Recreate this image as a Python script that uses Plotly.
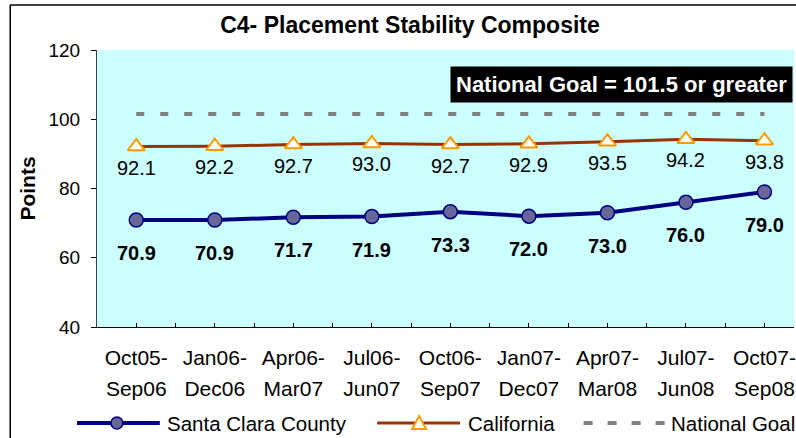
import plotly.graph_objects as go

categories_line1 = ["Oct05-", "Jan06-", "Apr06-", "Jul06-", "Oct06-", "Jan07-", "Apr07-", "Jul07-", "Oct07-"]
categories_line2 = ["Sep06", "Dec06", "Mar07", "Jun07", "Sep07", "Dec07", "Mar08", "Jun08", "Sep08"]
santa_clara = [70.9, 70.9, 71.7, 71.9, 73.3, 72.0, 73.0, 76.0, 79.0]
california = [92.1, 92.2, 92.7, 93.0, 92.7, 92.9, 93.5, 94.2, 93.8]
national_goal_value = 101.5
national_goal = [national_goal_value] * len(categories_line1)
y_ticks = [40, 60, 80, 100, 120]

FONT = "Liberation Sans, Arial, sans-serif"
W, H = 796, 438
L, R, T, B = 97, 0, 50, 111
PW = W - L - R
PH = H - T - B

def px(xp):
    return (xp - L) / PW

def py(yp):
    return (H - B - yp) / PH

xs = list(range(len(categories_line1)))

fig = go.Figure()
fig.add_trace(go.Scatter(
    x=xs, y=national_goal, mode="lines", name="National Goal",
    line=dict(color="#808080", width=4, dash="8px,16px"), showlegend=False))
fig.add_trace(go.Scatter(
    x=xs, y=california, mode="lines+markers", name="California",
    line=dict(color="#993300", width=3),
    marker=dict(symbol="triangle-up", size=15, color="white",
                line=dict(color="#FF9900", width=2)), showlegend=False))
fig.add_trace(go.Scatter(
    x=xs, y=santa_clara, mode="lines+markers", name="Santa Clara County",
    line=dict(color="#000080", width=4),
    marker=dict(symbol="circle", size=14, color="#666699",
                line=dict(color="#000080", width=1.5)), showlegend=False))

annotations = []
for i, v in enumerate(california):
    annotations.append(dict(x=i, y=v, xref="x", yref="y", text=f"{v:.1f}",
                            showarrow=False, yshift=-21,
                            font=dict(family=FONT, size=20, color="black")))
for i, v in enumerate(santa_clara):
    annotations.append(dict(x=i, y=v, xref="x", yref="y", text=f"<b>{v:.1f}</b>",
                            showarrow=False, yshift=-33,
                            font=dict(family=FONT, size=20, color="black")))

# National goal box
annotations.append(dict(x=px(451), y=py(84.5), xref="paper", yref="paper",
                        xanchor="left", yanchor="middle", showarrow=False,
                        text=f"<b>National Goal = {national_goal_value} or greater</b>",
                        bgcolor="black", borderpad=5,
                        font=dict(family=FONT, size=22, color="white")))

# Legend text
leg_y = py(423)
for xpos, name in [(165, "Santa Clara County"), (467, "California"), (671, "National Goal")]:
    annotations.append(dict(x=px(xpos), y=leg_y, xref="paper", yref="paper",
                            xanchor="left", yanchor="middle", showarrow=False,
                            text=name, font=dict(family=FONT, size=20.5, color="black")))

shapes = []
# outer border
shapes.append(dict(type="line", xref="paper", yref="paper", x0=px(10), x1=px(10),
                   y0=py(445), y1=py(5), line=dict(color="black", width=1.5)))
shapes.append(dict(type="line", xref="paper", yref="paper", x0=px(10), x1=px(800),
                   y0=py(5), y1=py(5), line=dict(color="black", width=1.5)))
# legend symbols
shapes.append(dict(type="line", xref="paper", yref="paper", x0=px(77), x1=px(160),
                   y0=leg_y, y1=leg_y, line=dict(color="#000080", width=4)))
shapes.append(dict(type="circle", xref="paper", yref="paper", xsizemode="pixel",
                   ysizemode="pixel", xanchor=px(117), yanchor=leg_y,
                   x0=-6, x1=6, y0=-6, y1=6, fillcolor="#666699",
                   line=dict(color="#000080", width=1.5)))
shapes.append(dict(type="line", xref="paper", yref="paper", x0=px(378), x1=px(461),
                   y0=leg_y, y1=leg_y, line=dict(color="#993300", width=3)))
shapes.append(dict(type="path", xref="paper", yref="paper", xsizemode="pixel",
                   ysizemode="pixel", xanchor=px(420), yanchor=leg_y,
                   path="M -7,-6 L 7,-6 L 0,7 Z", fillcolor="white",
                   line=dict(color="#FF9900", width=2)))
shapes.append(dict(type="line", xref="paper", yref="paper", x0=px(585), x1=px(667),
                   y0=leg_y, y1=leg_y, line=dict(color="#808080", width=4, dash="9px,15px")))

x_range = [-0.5, -0.5 + PW / 78.75]

fig.update_layout(
    width=W, height=H, autosize=False,
    margin=dict(l=L, r=R, t=T, b=B, pad=0),
    paper_bgcolor="white", plot_bgcolor="#CCFFFF",
    font=dict(family=FONT, size=19, color="black"),
    title=dict(text="<b>C4- Placement Stability Composite</b>", x=410 / W, xanchor="center",
               y=1 - 25 / H, yanchor="middle", yref="container",
               font=dict(family=FONT, size=23, color="black")),
    showlegend=False,
    xaxis=dict(range=x_range, tickmode="array", tickvals=xs, ticktext=categories_line1,
               ticks="inside", ticklen=4, tickcolor="black", showline=True,
               linecolor="black", linewidth=1, showgrid=False, zeroline=False,
               ticklabelstandoff=12, ticklabeloverflow="allow",
               tickfont=dict(family=FONT, size=21),
               minor=dict(ticks="inside", ticklen=4, tickcolor="black",
                          tickmode="linear", tick0=-0.5, dtick=1, showgrid=False)),
    xaxis2=dict(range=x_range, overlaying="x", matches="x", anchor="y", side="bottom",
                tickmode="array", tickvals=xs, ticktext=categories_line2,
                ticks="", showline=False, showgrid=False, zeroline=False,
                ticklabelstandoff=47, ticklabeloverflow="allow",
                tickfont=dict(family=FONT, size=21)),
    yaxis=dict(range=[40, 120], tickmode="array", tickvals=y_ticks,
               ticks="outside", ticklen=5, tickcolor="black", showline=True,
               linecolor="#404040", linewidth=1, showgrid=False, zeroline=False,
               ticklabelstandoff=7, tickfont=dict(family=FONT, size=19),
               title=dict(text="<b>Points</b>", standoff=7,
                          font=dict(family=FONT, size=21))),
    annotations=annotations, shapes=shapes,
)
fig.add_trace(go.Scatter(x=[None], y=[None], xaxis="x2", showlegend=False, hoverinfo="skip"))

fig.write_html("out.html", config={"displayModeBar": False},
               post_script="document.body.style.margin='0';")
